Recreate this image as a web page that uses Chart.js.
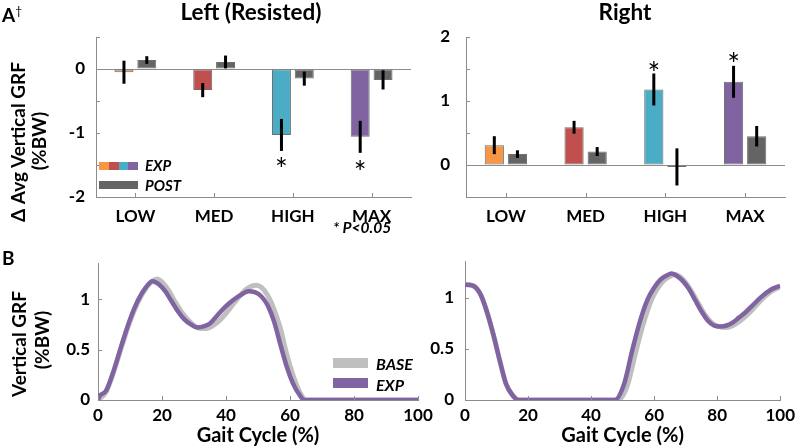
<!DOCTYPE html>
<html>
<head>
<meta charset="utf-8">
<script src="https://cdn.jsdelivr.net/npm/chart.js@4.4.1/dist/chart.umd.min.js"></script>
<style>
  body { margin: 0; width: 797px; height: 448px; position: relative; background: #fff; overflow: hidden; font-family: Lato, sans-serif; }
  canvas { position: absolute; }
  .t { position: absolute; font-weight: bold; color: #000; white-space: nowrap; line-height: 1; }
  .c { transform: translate(-50%, -50%); }
  .r { transform: translate(-50%, -50%) rotate(-90deg); }
  .i { font-style: italic; }
  .sw { position: absolute; }
</style>
</head>
<body>
<canvas id="topLeft"></canvas>
<canvas id="topRight"></canvas>
<canvas id="botLeft"></canvas>
<canvas id="botRight"></canvas>

<div class="t" style="left:2px;top:5px;font-size:19px;">A<sup style="font-size:12px;font-weight:normal;vertical-align:7px;">†</sup></div>
<div class="t c" style="left:251px;top:12px;font-size:22.5px;">Left (Resisted)</div>
<div class="t c" style="left:625px;top:12px;font-size:22.5px;">Right</div>
<div class="t r" style="left:17px;top:142px;font-size:19px;">Δ Avg Vertical GRF</div>
<div class="t r" style="left:38px;top:141px;font-size:19px;">(%BW)</div>

<div class="sw" style="left:99px;top:162px;width:10px;height:8px;background:#F79646"></div>
<div class="sw" style="left:109px;top:162px;width:10px;height:8px;background:#C0504D"></div>
<div class="sw" style="left:119px;top:162px;width:9px;height:8px;background:#4BACC6"></div>
<div class="sw" style="left:128px;top:162px;width:10px;height:8px;background:#8064A2"></div>
<div class="t i" style="left:145px;top:158px;font-size:15px;">EXP</div>
<div class="sw" style="left:99px;top:181px;width:39px;height:8px;background:#646464"></div>
<div class="t i" style="left:145px;top:178px;font-size:15px;">POST</div>
<div class="t i" style="left:333px;top:220px;font-size:15.5px;">* P&lt;0.05</div>

<div class="t" style="left:2px;top:248px;font-size:19px;">B</div>
<div class="t r" style="left:18px;top:344px;font-size:19px;">Vertical GRF</div>
<div class="t r" style="left:41px;top:340px;font-size:19px;">(%BW)</div>

<div class="sw" style="left:333px;top:358px;width:35px;height:10px;background:#BFBFBF"></div>
<div class="t i" style="left:376px;top:356px;font-size:16px;">BASE</div>
<div class="sw" style="left:333px;top:378px;width:35px;height:10px;background:#8064A2"></div>
<div class="t i" style="left:376px;top:377px;font-size:16px;">EXP</div>

<script>
// Top panels: change in average vertical GRF (%BW)
const categories = ['LOW', 'MED', 'HIGH', 'MAX'];
const expColors = ['#F79646', '#C0504D', '#4BACC6', '#8064A2'];
const postColor = '#646464';

const leftExp = [-0.05, -0.33, -1.03, -1.06];
const leftExpErr = [0.18, 0.11, 0.25, 0.25];
const leftPost = [0.14, 0.11, -0.15, -0.17];
const leftPostErr = [0.06, 0.10, 0.11, 0.15];
const leftStars = [null, null, -1.45, -1.5];

const rightExp = [0.31, 0.59, 1.18, 1.30];
const rightExpErr = [0.14, 0.10, 0.25, 0.25];
const rightPost = [0.17, 0.21, -0.03, 0.45];
const rightPostErr = [0.06, 0.07, 0.29, 0.16];
const rightStars = [null, null, 1.55, 1.68];

// Bottom panels: vertical GRF over the gait cycle
const leftBaseX = [0, 2.5, 5, 7.5, 10, 12.5, 15, 17, 18.5, 20, 22, 24, 26, 28, 30, 32, 34, 36, 38, 40, 42, 44, 46, 48, 49.5, 51, 53, 55, 57, 59, 61, 63, 65, 70, 80, 90, 100];
const leftBaseY = [0, 0.08, 0.29, 0.54, 0.78, 0.97, 1.11, 1.18, 1.20, 1.17, 1.09, 0.98, 0.88, 0.80, 0.74, 0.71, 0.71, 0.74, 0.79, 0.86, 0.94, 1.02, 1.09, 1.13, 1.14, 1.12, 1.04, 0.90, 0.71, 0.45, 0.24, 0.08, 0, 0, 0, 0, 0];
const leftExpX = [0, 0.5, 2.5, 5, 7.5, 10, 12.5, 15, 17, 19, 21, 23, 25, 27, 29, 31, 33, 35, 37, 39, 41, 43, 45, 47, 49, 51, 53, 55, 57, 59, 61, 63, 64.5, 70, 80, 90, 100];
const leftExpY = [0, 0.04, 0.09, 0.30, 0.56, 0.80, 0.99, 1.12, 1.18, 1.15, 1.08, 0.98, 0.88, 0.80, 0.75, 0.72, 0.73, 0.76, 0.83, 0.90, 0.96, 1.01, 1.05, 1.08, 1.07, 1.03, 0.94, 0.78, 0.55, 0.33, 0.16, 0.05, 0, 0, 0, 0, 0];

const rightBaseX = [0, 2.5, 5, 7, 9, 11, 13, 15, 17, 30, 48.5, 51.5, 54, 56.5, 59, 61, 63, 65, 66.7, 68.5, 70.5, 72.5, 74.5, 76.5, 78.5, 80.5, 83, 85, 87, 89, 91, 94, 97, 100];
const rightBaseY = [1.13, 1.12, 1.03, 0.86, 0.64, 0.39, 0.16, 0.05, 0, 0, 0, 0.14, 0.45, 0.74, 0.97, 1.09, 1.17, 1.21, 1.23, 1.20, 1.13, 1.03, 0.92, 0.82, 0.75, 0.72, 0.71, 0.73, 0.77, 0.82, 0.88, 0.98, 1.06, 1.11];
const rightExpX = [0, 2.5, 5, 7, 9, 11, 13, 15, 17, 30, 47.5, 50.5, 53, 55.5, 58, 60, 62, 64, 65.5, 67, 69, 71, 73, 75, 77, 79, 81, 83, 85, 87, 89, 91, 94, 97, 100];
const rightExpY = [1.13, 1.12, 1.03, 0.86, 0.64, 0.39, 0.16, 0.05, 0, 0, 0, 0.16, 0.48, 0.77, 0.99, 1.10, 1.18, 1.22, 1.24, 1.22, 1.17, 1.09, 0.98, 0.87, 0.78, 0.73, 0.72, 0.73, 0.76, 0.81, 0.86, 0.92, 1.01, 1.08, 1.12];

const gaitTicks = [0, 20, 40, 60, 80, 100];

const FONT = 'Lato, sans-serif';
const axisGray = '#8c8c8c';

function place(id, left, top, w, h) {
    const c = document.getElementById(id);
    c.style.left = left + 'px';
    c.style.top = top + 'px';
    c.width = w;
    c.height = h;
    return c;
}

// small inward tick marks, error bars and asterisks
const marksPlugin = {
    id: 'marks',
    afterDatasetsDraw(chart, args, opts) {
        const ctx = chart.ctx;
        const area = chart.chartArea;
        const x = chart.scales.x, y = chart.scales.y;
        ctx.save();
        ctx.strokeStyle = axisGray;
        ctx.lineWidth = 1;
        y.ticks.forEach(t => {
            const py = Math.round(y.getPixelForValue(t.value)) + 0.5;
            ctx.beginPath();
            ctx.moveTo(area.left, py);
            ctx.lineTo(area.left + 4, py);
            ctx.stroke();
        });
        x.ticks.forEach((t, i) => {
            const px = Math.round(x.type === 'category' ? x.getPixelForTick(i) : x.getPixelForValue(t.value)) + 0.5;
            ctx.beginPath();
            ctx.moveTo(px, area.bottom);
            ctx.lineTo(px, area.bottom - 4);
            ctx.stroke();
        });

        chart.data.datasets.forEach((ds, di) => {
            if (!ds.errors) return;
            const meta = chart.getDatasetMeta(di);
            ctx.strokeStyle = '#000';
            ctx.lineWidth = 3;
            meta.data.forEach((bar, i) => {
                const v = ds.data[i], e = ds.errors[i];
                ctx.beginPath();
                ctx.moveTo(bar.x, y.getPixelForValue(v - e));
                ctx.lineTo(bar.x, y.getPixelForValue(v + e));
                ctx.stroke();
            });
        });

        if (opts && opts.stars) {
            const meta = chart.getDatasetMeta(0);
            ctx.fillStyle = '#000';
            ctx.font = '30px ' + FONT;
            ctx.textAlign = 'center';
            ctx.textBaseline = 'alphabetic';
            const m = ctx.measureText('*');
            const shift = (m.actualBoundingBoxAscent - m.actualBoundingBoxDescent) / 2;
            opts.stars.forEach((s, i) => {
                if (s === null) return;
                ctx.fillText('*', meta.data[i].x, y.getPixelForValue(s) + shift);
            });
        }
        ctx.restore();
    }
};

function makeBar(id, left, w, yWidth, padRight, exp, expErr, post, postErr, stars, yMin, yMax, tickPad) {
    const canvas = place(id, left, 0, w, 230);
    return new Chart(canvas, {
        type: 'bar',
        data: {
            labels: categories,
            datasets: [
                {
                    label: 'EXP',
                    data: exp,
                    errors: expErr,
                    backgroundColor: expColors,
                    borderColor: '#6f6f6f',
                    borderWidth: 1,
                    borderSkipped: false
                },
                {
                    label: 'POST',
                    data: post,
                    errors: postErr,
                    backgroundColor: postColor,
                    borderColor: '#6f6f6f',
                    borderWidth: 1,
                    borderSkipped: false
                }
            ]
        },
        options: {
            responsive: false,
            animation: false,
            events: [],
            barPercentage: 0.83,
            categoryPercentage: 0.58,
            layout: { padding: { left: 0, right: padRight, top: 37, bottom: 0 } },
            plugins: {
                legend: { display: false },
                tooltip: { enabled: false },
                marks: { stars: stars }
            },
            scales: {
                x: {
                    grid: { display: false, drawTicks: false },
                    border: { display: true, color: axisGray, width: 1 },
                    ticks: { color: '#000', font: { family: FONT, size: 17, weight: 'bold' }, padding: 9, maxRotation: 0 },
                    afterFit: s => { s.height = 33; }
                },
                y: {
                    min: yMin,
                    max: yMax,
                    grid: {
                        drawTicks: false,
                        color: c => (c.tick && c.tick.value === 0 ? axisGray : 'rgba(0,0,0,0)')
                    },
                    border: { display: true, color: axisGray, width: 1 },
                    ticks: {
                        stepSize: 0.5,
                        padding: tickPad,
                        color: '#000',
                        font: { family: FONT, size: 17, weight: 'bold' },
                        callback: v => (Number.isInteger(v) ? String(v) : '')
                    },
                    afterFit: s => { s.width = yWidth; }
                }
            }
        },
        plugins: [marksPlugin]
    });
}

function pts(xs, ys) {
    return xs.map((x, i) => ({ x: x, y: ys[i] }));
}

function makeLine(id, left, top, w, yWidth, padRight, padTop, baseX, baseY, expX, expY, tickPad) {
    const canvas = place(id, left, top, w, 208);
    return new Chart(canvas, {
        type: 'line',
        data: {
            datasets: [
                {
                    label: 'BASE',
                    data: pts(baseX, baseY),
                    borderColor: '#BFBFBF',
                    borderWidth: 5,
                    pointRadius: 0,
                    cubicInterpolationMode: 'monotone',
                    order: 2
                },
                {
                    label: 'EXP',
                    data: pts(expX, expY),
                    borderColor: '#8064A2',
                    borderWidth: 4.5,
                    pointRadius: 0,
                    cubicInterpolationMode: 'monotone',
                    order: 1
                }
            ]
        },
        options: {
            responsive: false,
            animation: false,
            events: [],
            layout: { padding: { left: 0, right: padRight, top: padTop, bottom: 0 } },
            plugins: {
                legend: { display: false },
                tooltip: { enabled: false },
                marks: {}
            },
            scales: {
                x: {
                    type: 'linear',
                    min: 0,
                    max: 100,
                    grid: { display: false, drawTicks: false },
                    border: { display: true, color: axisGray, width: 1 },
                    ticks: {
                        stepSize: 20,
                        padding: 5,
                        maxRotation: 0,
                        color: '#000',
                        font: { family: FONT, size: 17, weight: 'bold' },
                        callback: v => (gaitTicks.includes(v) ? String(v) : '')
                    },
                    title: {
                        display: true,
                        text: 'Gait Cycle (%)',
                        color: '#000',
                        font: { family: FONT, size: 20, weight: 'bold' },
                        padding: { top: 0, bottom: 0 }
                    },
                    afterFit: s => { s.height = 48; }
                },
                y: {
                    min: 0,
                    max: 1.36,
                    grid: { display: false, drawTicks: false },
                    border: { display: true, color: axisGray, width: 1 },
                    ticks: {
                        stepSize: 0.5,
                        includeBounds: false,
                        padding: tickPad,
                        color: '#000',
                        font: { family: FONT, size: 17, weight: 'bold' },
                        callback: v => String(v)
                    },
                    afterFit: s => { s.width = yWidth; }
                }
            }
        },
        plugins: [marksPlugin]
    });
}

makeBar('topLeft', 0, 420, 96, 9, leftExp, leftExpErr, leftPost, leftPostErr, leftStars, -2, 0.5, 11);
makeBar('topRight', 420, 380, 46, 15, rightExp, rightExpErr, rightPost, rightPostErr, rightStars, -0.5, 2, 16);
makeLine('botLeft', 0, 240, 440, 98, 22, 23, leftBaseX, leftBaseY, leftExpX, leftExpY, 8);
makeLine('botRight', 420, 240, 380, 45, 15, 20, rightBaseX, rightBaseY, rightExpX, rightExpY, 11);
</script>
</body>
</html>
